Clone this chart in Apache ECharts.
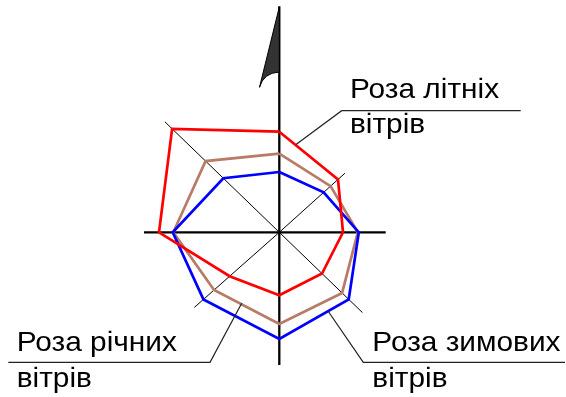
<!DOCTYPE html>
<html>
<head>
<meta charset="utf-8">
<script src="https://cdn.jsdelivr.net/npm/echarts@6/dist/echarts.min.js"></script>
<style>
html,body{margin:0;padding:0;background:#fff;}
#c{width:566px;height:397px;}
</style>
</head>
<body>
<div id="c"></div>
<script>
// Wind directions and their bearings (degrees clockwise from north), as drawn
const directions = ['Пн', 'ПнСх', 'Сх', 'ПдСх', 'Пд', 'ПдЗх', 'Зх', 'ПнЗх'];
const bearings = [0, 48, 90, 134, 180, 228.5, 270, 314];

// Wind rose values (relative frequency units)
const summer = [10.06, 7.9, 6.37, 5.94, 6.3, 6.63, 12.03, 14.9];   // Роза літніх вітрів
const annual = [7.86, 6.9, 7.85, 8.73, 9.17, 8.71, 10.6, 10.25];   // Роза річних вітрів
const winter = [6.03, 5.97, 7.95, 9.65, 10.67, 10.13, 10.66, 7.78]; // Роза зимових вітрів

// Length of each direction ray
const rayLengths = [22.6, 8.83, 10.64, 11.56, 13.27, 11.34, 13.53, 15.91];

// Label texts
const labels = {
  summer: ['Роза літніх', 'вітрів'],
  annual: ['Роза річних', 'вітрів'],
  winter: ['Роза зимових', 'вітрів']
};

function roseData(vals) {
  const d = vals.map((v, i) => [v, bearings[i]]);
  d.push([vals[0], bearings[0] + 360]);
  return d;
}

const chart = echarts.init(document.getElementById('c'), null, {renderer: 'canvas'});

const series = [];
rayLengths.forEach((len, i) => {
  series.push({
    name: 'ray-' + directions[i],
    type: 'line',
    coordinateSystem: 'polar',
    data: [[0, bearings[i]], [len, bearings[i]]],
    showSymbol: false,
    silent: true,
    lineStyle: {color: '#000', width: i % 2 === 0 ? 2.3 : 1},
    z: 1
  });
});

function rose(name, vals, color) {
  return {
    name: name,
    type: 'line',
    coordinateSystem: 'polar',
    data: roseData(vals),
    showSymbol: false,
    lineStyle: {color: color, width: 2.7, join: 'miter', cap: 'butt'},
    z: 3
  };
}
series.push(rose('Роза річних вітрів', annual, '#b87b66'));
series.push(rose('Роза зимових вітрів', winter, '#0000ff'));
series.push(rose('Роза літніх вітрів', summer, '#ff0000'));

const font = '28px "Liberation Sans", Arial, sans-serif';
function txt(t, x, y) {
  return {type: 'text', z: 10, x: x, y: y, scaleX: 1.065, scaleY: 1,
    style: {text: t, x: 0, y: 0, font: font, fill: '#000', textVerticalAlign: 'middle'}};
}
function pl(points, w, c) {
  return {type: 'polyline', z: 10, shape: {points: points}, style: {stroke: c || '#222', lineWidth: w || 1, fill: null}};
}

const option = {
  animation: false,
  backgroundColor: '#fff',
  polar: {center: [279.3, 232.3], radius: 230},
  angleAxis: {type: 'value', min: 0, max: 360, startAngle: 90, clockwise: true,
    axisLine: {show: false}, axisTick: {show: false}, axisLabel: {show: false}, splitLine: {show: false}},
  radiusAxis: {type: 'value', min: 0, max: 23,
    axisLine: {show: false}, axisTick: {show: false}, axisLabel: {show: false}, splitLine: {show: false}},
  series: series,
  graphic: [
    // flag on the north ray
    {type: 'polygon', z: 5,
     shape: {points: [[279.3, 7], [259.5, 87.3], [262.2, 81], [266.4, 76.3], [272.1, 73.3], [279.3, 72]]},
     style: {fill: '#333', stroke: '#000', lineWidth: 1}},
    // summer label
    pl([[296, 144.5], [341.7, 110.7], [520.7, 110.7]], 1.2),
    txt(labels.summer[0], 350, 89.8),
    txt(labels.summer[1], 350, 125.5),
    // annual label
    pl([[241.7, 303.3], [210, 362.3], [8.3, 362.3]], 1.2),
    txt(labels.annual[0], 16.7, 342.8),
    txt(labels.annual[1], 16.7, 378.8),
    // winter label
    pl([[328, 311], [363.3, 362.3], [565, 362.3]], 1.2),
    txt(labels.winter[0], 372.3, 342.8),
    txt(labels.winter[1], 372.3, 378.8)
  ]
};
chart.setOption(option);
</script>
</body>
</html>
